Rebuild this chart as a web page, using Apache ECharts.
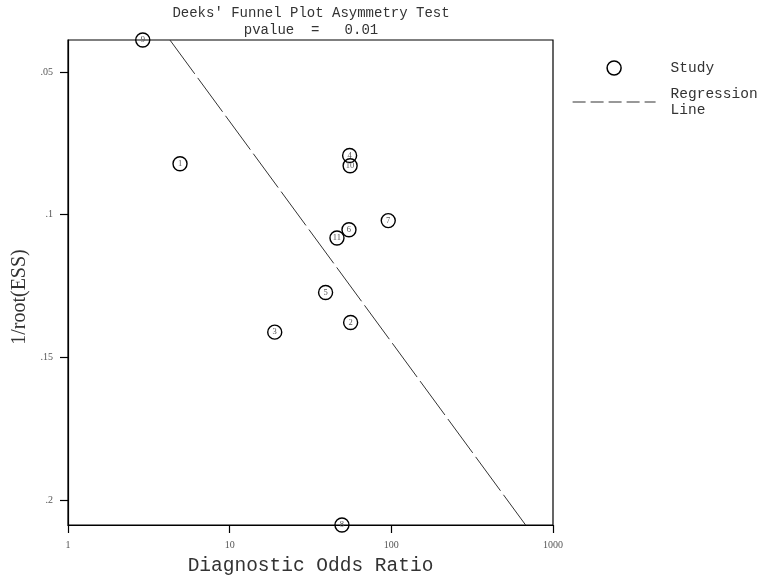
<!DOCTYPE html>
<html>
<head>
<meta charset="utf-8">
<script src="https://cdn.jsdelivr.net/npm/echarts@6/dist/echarts.min.js"></script>
<style>html,body{margin:0;padding:0;background:#fff;}#c{width:758px;height:579px;}</style>
</head>
<body>
<div id="c"></div>
<script>
var studyIds = ['1','2','3','4','5','6','7','8','9','10','11'];
var dor = [4.93, 56.0, 19.0, 55.2, 39.2, 54.7, 95.7, 49.5, 2.90, 55.6, 46.1];
var invRootEss = [0.0822, 0.1378, 0.1412, 0.0793, 0.1273, 0.1053, 0.1021, 0.2088, 0.0388, 0.0829, 0.1082];
var regX = [4.27, 677];
var regY = [0.0388, 0.2088];
var yTicks = [0.05, 0.1, 0.15, 0.2];
var yTickLabels = ['.05', '.1', '.15', '.2'];
var titleLines = ["Deeks' Funnel Plot Asymmetry Test", "pvalue  =   0.01"];

var points = studyIds.map(function (id, i) { return [dor[i], invRootEss[i], id]; });
var regLine = regX.map(function (x, i) { return [x, regY[i]]; });

var mono = 'Liberation Mono';
var chart = echarts.init(document.getElementById('c'), null, {renderer: 'canvas'});
chart.setOption({
  animation: false,
  backgroundColor: '#fff',
  title: {
    text: titleLines.join('\n'),
    left: 311, top: 0, padding: [5, 0, 0, 0], textAlign: 'center',
    textStyle: {fontFamily: mono, fontSize: 14, fontWeight: 'normal', color: '#333', lineHeight: 17}
  },
  grid: {left: 68, right: 205, top: 40, bottom: 54, show: true, borderColor: '#000', borderWidth: 1.2,
    outerBoundsMode: 'none', containLabel: false},
  legend: {
    orient: 'vertical', left: 572, top: 60, padding: 0,
    itemWidth: 83, itemHeight: 14, itemGap: 10,
    textStyle: {fontFamily: mono, fontSize: 14.5, color: '#333', lineHeight: 16, padding: [0, 0, 0, 10]},
    formatter: function (n) { return n.replace(' ', '\n'); },
    data: [
      {name: 'Study', icon: 'circle', itemStyle: {color: 'rgba(0,0,0,0)', borderColor: '#000', borderWidth: 1.5}},
      {name: 'Regression Line', itemStyle: {color: 'rgba(0,0,0,0)', borderColor: 'rgba(0,0,0,0)', borderWidth: 0},
        lineStyle: {type: [13, 5], width: 1.2, color: '#333'}}
    ]
  },
  xAxis: {
    type: 'log', logBase: 10, min: 1, max: 1000,
    name: 'Diagnostic Odds Ratio', nameLocation: 'middle', nameGap: 31,
    nameTextStyle: {fontFamily: mono, fontSize: 19.5, color: '#333'},
    axisLine: {lineStyle: {color: '#000', width: 1.2}},
    axisTick: {show: true, length: 8, lineStyle: {color: '#000', width: 1.2}},
    axisLabel: {margin: 15, fontFamily: 'Liberation Serif', fontSize: 10, color: '#555',
      formatter: function (v) { return String(Math.round(v)); }},
    splitLine: {show: false}, minorTick: {show: false}
  },
  yAxis: {
    type: 'value', inverse: true, min: 0.0388, max: 0.2088,
    axisLine: {show: true, lineStyle: {color: '#000', width: 1.2}},
    axisTick: {show: true, length: 8, customValues: yTicks, lineStyle: {color: '#000', width: 1.2}},
    axisLabel: {margin: 15, fontFamily: 'Liberation Serif', fontSize: 10, color: '#555', customValues: yTicks,
      formatter: function (v) {
        for (var i = 0; i < yTicks.length; i++) if (Math.abs(yTicks[i] - v) < 1e-9) return yTickLabels[i];
        return '';
      }},
    splitLine: {show: false}
  },
  graphic: [{
    type: 'text', x: 20, y: 297, rotation: Math.PI / 2,
    style: {text: '1/root(ESS)', fontFamily: 'Liberation Serif', fontSize: 20, fill: '#333',
      align: 'center', verticalAlign: 'middle'}
  }],
  series: [
    {
      name: 'Regression Line', type: 'line', data: regLine, symbol: 'none', clip: false, color: '#333',
      lineStyle: {type: [42, 5], width: 1, color: '#333'}, z: 1
    },
    {
      name: 'Study', type: 'scatter', data: points, symbol: 'circle', symbolSize: 14, clip: false,
      itemStyle: {color: 'rgba(0,0,0,0)', borderColor: '#000', borderWidth: 1.4, opacity: 1},
      label: {show: true, position: 'inside', formatter: function (p) { return p.data[2]; },
        fontFamily: 'Liberation Serif', fontSize: 8.5, color: '#555'},
      z: 3
    }
  ]
});
</script>
</body>
</html>
